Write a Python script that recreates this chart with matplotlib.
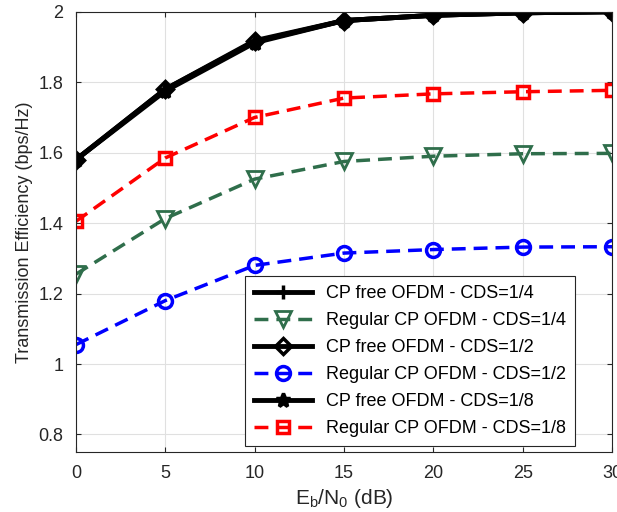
import numpy as np
import matplotlib.pyplot as plt

plt.rcParams['font.family'] = ['Liberation Sans', 'DejaVu Sans']

snr = [0, 5, 10, 15, 20, 25, 30]
cpfree_14 = [1.58, 1.78, 1.915, 1.975, 1.99, 1.997, 2.0]
cpfree_12 = [1.58, 1.78, 1.918, 1.975, 1.99, 1.997, 2.0]
cpfree_18 = [1.58, 1.775, 1.912, 1.975, 1.99, 1.997, 2.0]
regcp_14 = [1.255, 1.413, 1.525, 1.575, 1.59, 1.597, 1.598]
regcp_12 = [1.055, 1.18, 1.28, 1.315, 1.325, 1.332, 1.333]
regcp_18 = [1.405, 1.585, 1.70, 1.755, 1.767, 1.773, 1.777]

labels = ["CP free OFDM - CDS=1/4", "Regular CP OFDM - CDS=1/4",
          "CP free OFDM - CDS=1/2", "Regular CP OFDM - CDS=1/2",
          "CP free OFDM - CDS=1/8", "Regular CP OFDM - CDS=1/8"]

green = '#2f6e4b'
dash = (0, (4, 2.3))

fig = plt.figure(figsize=(6.17, 5.12), dpi=100)
ax = fig.add_axes([0.123, 0.117, 0.869, 0.86])

ax.plot(snr, cpfree_14, color='k', lw=3.5, marker='+', ms=10, mew=2.5, label=labels[0])
ax.plot(snr, regcp_14, color=green, lw=2.5, ls=dash, marker='v', ms=11, mfc='none', mew=2, label=labels[1])
ax.plot(snr, cpfree_12, color='k', lw=3.5, marker='D', ms=8, mfc='none', mew=2.5, label=labels[2])
ax.plot(snr, regcp_12, color='b', lw=2.5, ls=dash, marker='o', ms=10, mfc='none', mew=2.5, label=labels[3])
ax.plot(snr, cpfree_18, color='k', lw=3.5, marker='*', ms=10, mew=2.5, label=labels[4])
ax.plot(snr, regcp_18, color='r', lw=2.5, ls=dash, marker='s', ms=9, mfc='none', mew=2.5, label=labels[5])

ax.set_xlim(0, 30)
ax.set_ylim(0.75, 2)
ax.set_xticks(snr)
ax.set_yticks([0.8, 1, 1.2, 1.4, 1.6, 1.8, 2])
ax.set_yticklabels(['0.8', '1', '1.2', '1.4', '1.6', '1.8', '2'])
ax.grid(True, color='#e0e0e0', lw=0.8)
ax.tick_params(direction='in', labelsize=13, colors='#262626', pad=9, top=True, right=True)
for s in ax.spines.values():
    s.set_color('#262626')
ax.set_xlabel(r'E$_\mathregular{b}$/N$_\mathregular{0}$ (dB)', fontsize=15, color='#262626')
ax.set_ylabel('Transmission Efficiency (bps/Hz)', fontsize=13, color='#262626')

leg = ax.legend(loc='lower right', bbox_to_anchor=(0.931, 0.0136), borderaxespad=0, fontsize=13,
                fancybox=False, framealpha=1, edgecolor='#262626', handlelength=3.2,
                borderpad=0.5, labelspacing=0.55)
leg.get_frame().set_linewidth(0.8)

fig.savefig('out.png', dpi=100)
